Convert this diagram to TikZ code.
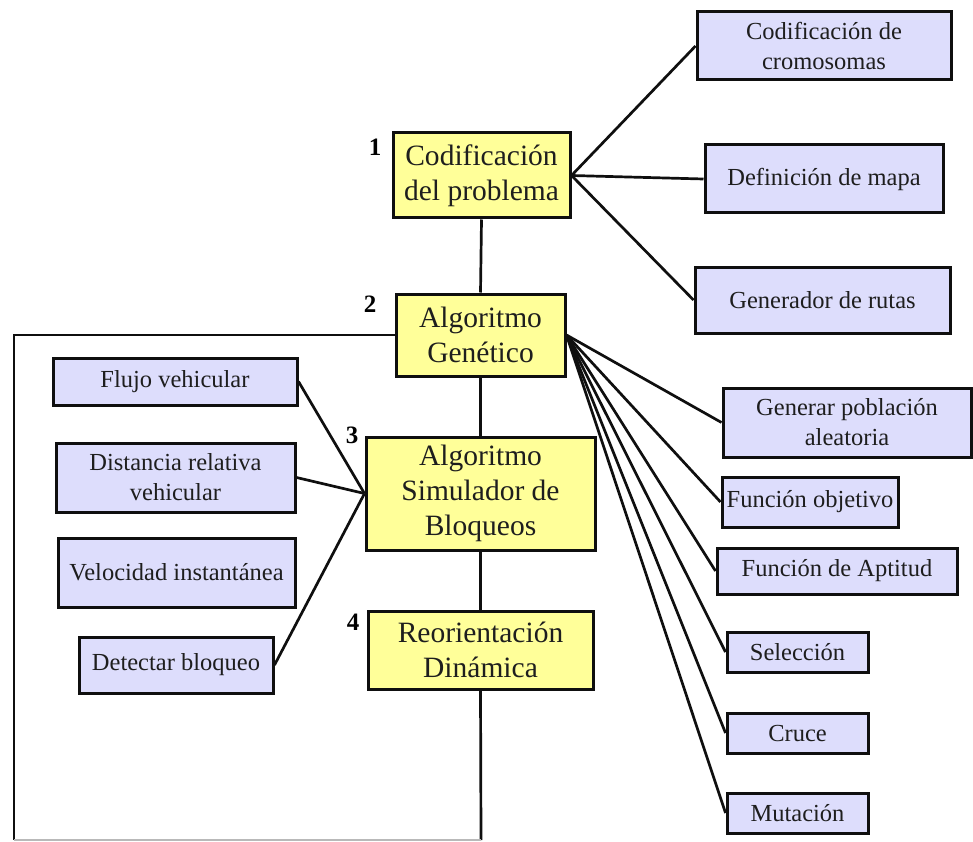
\documentclass[tikz,border=0pt]{standalone}
\usepackage{fontspec}
\setmainfont{Liberation Serif}
\definecolor{stagefill}{RGB}{255,255,153}
\definecolor{taskfill}{RGB}{221,221,252}
\definecolor{inkline}{RGB}{15,15,15}
\definecolor{inktext}{RGB}{30,30,30}
\begin{document}
\begin{tikzpicture}[x=1pt,y=-1pt]
\tikzset{
  stage/.style={draw=inkline, line width=3pt, fill=stagefill, align=center,
    text=inktext, inner sep=0pt, font=\fontsize{29.5}{35}\selectfont},
  task/.style={draw=inkline, line width=3pt, fill=taskfill, align=center,
    text=inktext, inner sep=0pt, font=\fontsize{24.5}{30}\selectfont},
  link/.style={draw=inkline, line width=2.7pt},
  num/.style={text=black, font=\bfseries\fontsize{25}{25}\selectfont, inner sep=0pt}
}
\useasboundingbox (0,0) rectangle (973,842);

% main stages
\node[stage, minimum width=177pt, minimum height=85pt]  (b1) at (481.5,175.5) {Codificación\\del problema};
\node[stage, minimum width=169pt, minimum height=82pt]  (b2) at (480.5,335)   {Algoritmo\\Genético};
\node[stage, minimum width=229pt, minimum height=113pt] (b3) at (480.5,493.5) {Algoritmo\\Simulador de\\Bloqueos};
\node[stage, minimum width=225pt, minimum height=78pt]  (b4) at (480.5,650)   {Reorientación\\Dinámica};

% stage numbers
\node[num] (n1) at (375,147) {1};
\node[num] (n2) at (370,304) {2};
\node[num] (n3) at (352,435) {3};
\node[num] (n4) at (353,622) {4};

% tasks of stage 1
\node[task, minimum width=254pt, minimum height=68pt] (crom) at (824,46)    {Codificación de\\cromosomas};
\node[task, minimum width=238pt, minimum height=68pt] (mapa) at (824,179)   {Definición de mapa};
\node[task, minimum width=255pt, minimum height=66pt] (ruta) at (822.5,300) {Generador de rutas};

% tasks of stage 2
\node[task, minimum width=248pt, minimum height=69pt] (pobl) at (847,422.5) {Generar población\\aleatoria};
\node[task, minimum width=176pt, minimum height=50pt] (obj)  at (810,502)   {Función objetivo};
\node[task, minimum width=240pt, minimum height=46pt] (apt)  at (837,571)   {Función de Aptitud};
\node[task, minimum width=141pt, minimum height=40pt] (sel)  at (797.5,652) {Selección};
\node[task, minimum width=141pt, minimum height=40pt] (cru)  at (797.5,733) {Cruce};
\node[task, minimum width=141pt, minimum height=40pt] (mut)  at (797.5,813) {Mutación};

% inputs of stage 3
\node[task, minimum width=244pt, minimum height=47pt] (flujo) at (175,381.5) {Flujo vehicular};
\node[task, minimum width=239pt, minimum height=69pt] (dist)  at (175.5,477.5) {Distancia relativa\\vehicular};
\node[task, minimum width=237pt, minimum height=69pt] (vel)   at (176.5,572.5) {Velocidad instantánea};
\node[task, minimum width=194pt, minimum height=56pt] (det)   at (176,665) {Detectar bloqueo};

% frame corners and spine end
\coordinate (ftop) at (14,335);
\coordinate (fbot) at (14,840);
\coordinate (send) at (481,840);

% spine
\draw[link] (b1.south) -- (b2.north);
\draw[link] (b2.south) -- (b3.north);
\draw[link] (b3.south) -- (b4.north);
\draw[link] (b4.south) -- (send);

% frame
\draw[link] (b2.west) -- (ftop) -- (fbot);
\draw[draw=gray!55, line width=1.2pt] (fbot) -- (send);

% fans
\foreach \t in {crom,mapa,ruta} \draw[link] (b1.east) -- (\t.west);
\foreach \t in {pobl,obj,apt,sel,cru,mut} \draw[link] (b2.east) -- (\t.west);
\foreach \t in {flujo,dist,det} \draw[link] (\t.east) -- (b3.west);
\end{tikzpicture}
\end{document}
